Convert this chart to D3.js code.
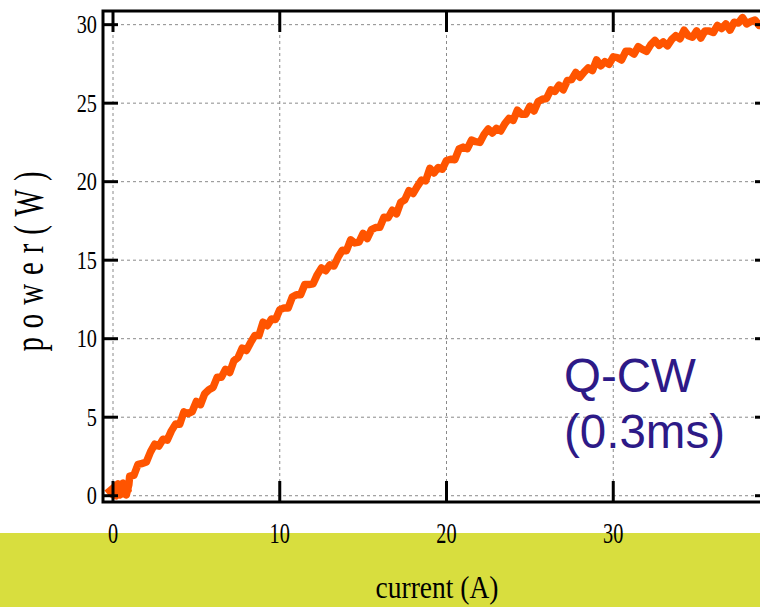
<!DOCTYPE html>
<html><head><meta charset="utf-8">
<script src="https://cdn.jsdelivr.net/npm/d3@7"></script>
<style>body{margin:0;background:#fff}svg{display:block}</style>
</head><body><svg id="c" width="760" height="607"></svg>
<script>
const currentA = [-0.2,0.3,0.0,0.5,0.2,0.7,0.4,0.9,0.6,0.8,0.95,
1.0,1.25,1.5,1.75,2.0,2.25,2.5,2.75,3.0,3.25,3.5,3.75,4.0,4.25,4.5,4.75,5.0,5.25,5.5,5.75,6.0,6.25,6.5,6.75,7.0,7.25,7.5,7.75,8.0,8.25,8.5,8.75,9.0,9.25,9.5,9.75,10.0,10.25,10.5,10.75,11.0,11.25,11.5,11.75,12.0,12.25,12.5,12.75,13.0,13.25,13.5,13.75,14.0,14.25,14.5,14.75,15.0,15.25,15.5,15.75,16.0,16.25,16.5,16.75,17.0,17.25,17.5,17.75,18.0,18.25,18.5,18.75,19.0,19.25,19.5,19.75,20.0,20.25,20.5,20.75,21.0,21.25,21.5,21.75,22.0,22.25,22.5,22.75,23.0,23.25,23.5,23.75,24.0,24.25,24.5,24.75,25.0,25.25,25.5,25.75,26.0,26.25,26.5,26.75,27.0,27.25,27.5,27.75,28.0,28.25,28.5,28.75,29.0,29.25,29.5,29.75,30.0,30.25,30.5,30.75,31.0,31.25,31.5,31.75,32.0,32.25,32.5,32.75,33.0,33.25,33.5,33.75,34.0,34.25,34.5,34.75,35.0,35.25,35.5,35.75,36.0,36.25,36.5,36.75,37.0,37.25,37.5,37.75,38.0,38.25,38.5,38.75,39.0,39.25,39.5];
const powerW = [0.3,0.75,0.05,0.45,0.0,0.65,0.05,0.35,0.8,0.05,0.7,
1.25,1.30,2.00,2.05,2.15,2.79,3.28,3.16,3.60,3.54,4.13,4.56,4.55,5.34,5.23,5.36,6.00,5.80,6.50,6.75,6.90,7.55,7.55,8.05,7.85,8.60,8.80,9.40,9.25,9.75,10.20,10.20,11.05,10.83,11.25,11.23,11.85,11.95,11.95,12.65,12.80,12.80,13.45,13.45,13.50,14.08,14.50,14.33,14.70,14.63,15.20,15.63,15.60,16.30,16.10,16.15,16.70,16.38,16.95,17.08,17.10,17.73,17.70,18.18,17.95,18.68,18.85,19.43,19.25,19.70,20.10,20.05,20.85,20.55,20.90,20.80,21.35,21.43,21.40,22.08,22.20,22.10,22.65,22.55,22.50,23.00,23.35,23.10,23.40,23.23,23.70,24.03,23.90,24.55,24.30,24.30,24.80,24.50,25.10,25.25,25.30,25.85,25.75,26.15,25.85,26.45,26.50,26.95,26.65,26.98,27.25,27.08,27.75,27.38,27.65,27.48,27.95,27.90,27.75,28.30,28.30,28.13,28.60,28.43,28.30,28.73,29.00,28.68,28.90,28.65,29.05,29.30,29.10,29.65,29.30,29.20,29.60,29.15,29.60,29.60,29.50,29.95,29.75,30.05,29.65,30.15,30.10,30.45,30.05,30.20,30.30,29.95,30.10,29.85,29.90];
const xTicks = [0,10,20,30];
const yTicks = [0,5,10,15,20,25,30];
const xLabel = "current (A)";
const yLabel = "p o w e r ( W )";
const noteLines = ["Q-CW","(0.3ms)"];

const svg = d3.select("#c");
svg.append("rect").attr("width",760).attr("height",607).attr("fill","#fff");
const L=103,R=770,T=11,B=502;
const x = d3.scaleLinear().domain([-0.6,39.4]).range([L,R]);
const y = d3.scaleLinear().domain([-0.4,30.87]).range([B,T]);

// band
svg.append("rect").attr("x",0).attr("y",533).attr("width",760).attr("height",74).attr("fill","#d8de3e");

// grid
const g = svg.append("g").attr("stroke","#8a8a8a").attr("stroke-width",1).attr("stroke-dasharray","3,3");
g.selectAll("line.v").data(xTicks).join("line").attr("class","v")
  .attr("x1",d=>x(d)).attr("x2",d=>x(d)).attr("y1",T).attr("y2",B);
g.selectAll("line.h").data(yTicks).join("line").attr("class","h")
  .attr("x1",L).attr("x2",R).attr("y1",d=>y(d)).attr("y2",d=>y(d));

// note
const note = svg.append("text").attr("font-family","'Liberation Sans',Arial,sans-serif")
  .attr("font-size",47.5).attr("fill","#2d1a87");
note.selectAll("tspan").data(noteLines).join("tspan")
  .attr("x",564).attr("y",(d,i)=>392+i*56).text(d=>d);

// data line
svg.append("clipPath").attr("id","cp").append("rect").attr("x",L).attr("y",T).attr("width",R-L).attr("height",B-T);
const pts = currentA.map((c,i)=>[c,powerW[i]]);
svg.append("path").attr("clip-path","url(#cp)")
  .attr("d", d3.line().x(d=>x(d[0])).y(d=>y(d[1]))(pts))
  .attr("fill","none").attr("stroke","#ff5400").attr("stroke-width",7.5)
  .attr("stroke-linejoin","round").attr("stroke-linecap","square");

// frame
svg.append("rect").attr("x",L).attr("y",T).attr("width",R-L).attr("height",B-T)
  .attr("fill","none").attr("stroke","#000").attr("stroke-width",3);

// ticks
const tk = svg.append("g").attr("stroke","#000").attr("stroke-width",3);
tk.selectAll("line.l").data(yTicks).join("line").attr("class","l")
  .attr("x1",L).attr("x2",L+15).attr("y1",d=>y(d)).attr("y2",d=>y(d));
tk.selectAll("line.r").data(yTicks).join("line").attr("class","r")
  .attr("x1",R).attr("x2",R-15).attr("y1",d=>y(d)).attr("y2",d=>y(d));
tk.selectAll("line.b").data(xTicks).join("line").attr("class","b")
  .attr("x1",d=>x(d)).attr("x2",d=>x(d)).attr("y1",B).attr("y2",B-21);
tk.selectAll("line.t").data(xTicks).join("line").attr("class","t")
  .attr("x1",d=>x(d)).attr("x2",d=>x(d)).attr("y1",T).attr("y2",T+21);

// tick labels
const serif = "'Liberation Serif','Times New Roman',serif";
svg.selectAll("text.yt").data(yTicks).join("text").attr("class","yt")
  .attr("transform",d=>`translate(97,${y(d)+8.5}) scale(0.78,1)`)
  .attr("text-anchor","end").attr("font-family",serif).attr("font-size",26).attr("fill","#000")
  .text(d=>d);
svg.selectAll("text.xt").data(xTicks).join("text").attr("class","xt")
  .attr("transform",d=>`translate(${x(d)},543) scale(0.7,1)`)
  .attr("text-anchor","middle").attr("font-family",serif).attr("font-size",29).attr("fill","#000")
  .text(d=>d);

// axis titles
svg.append("text").attr("transform","translate(437,598) scale(0.86,1)").attr("text-anchor","middle")
  .attr("font-family",serif).attr("font-size",32).attr("fill","#000").text(xLabel);
svg.append("text").attr("transform","translate(43,261) rotate(-90) scale(0.9,1.35)")
  .attr("text-anchor","middle").attr("font-family",serif).attr("font-size",32)
  .attr("letter-spacing",1).attr("fill","#000").text(yLabel);
</script></body></html>
